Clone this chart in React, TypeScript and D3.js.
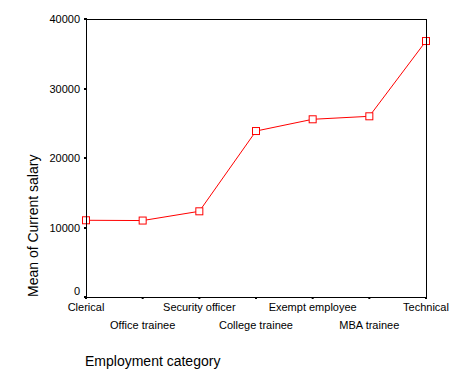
import React from "react";
import * as d3 from "d3";

const categories = [
  "Clerical",
  "Office trainee",
  "Security officer",
  "College trainee",
  "Exempt employee",
  "MBA trainee",
  "Technical",
];
const meanSalary = [11040, 11000, 12330, 23880, 25570, 26000, 36830];
const yTicks = [0, 10000, 20000, 30000, 40000];

const W = 472;
const H = 377;
const left = 86;
const right = 426;
const top = 19;
const bottom = 297;
const font = "'Liberation Sans', Arial, Helvetica, sans-serif";

export default function App() {
  const x = d3.scalePoint<string>().domain(categories).range([left, right]);
  const y = d3.scaleLinear().domain([0, 40000]).range([bottom, top]);
  const line = d3
    .line<number>()
    .x((_, i) => x(categories[i]) as number)
    .y((d) => y(d));

  return (
    <svg
      width={W}
      height={H}
      style={{ position: "absolute", left: 0, top: 0, background: "#fff" }}
      fontFamily={font}
    >
      <rect x={0} y={0} width={W} height={H} fill="#fff" />
      <path d={line(meanSalary) || ""} fill="none" stroke="#ff0000" strokeWidth={1} />
      {meanSalary.map((v, i) => (
        <rect
          key={i}
          x={(x(categories[i]) as number) - 3.5}
          y={y(v) - 3.5}
          width={7}
          height={7}
          fill="#fff"
          stroke="#ff0000"
          strokeWidth={1}
        />
      ))}
      {/* frame */}
      <rect
        x={left + 0.5}
        y={top + 0.5}
        width={right - left}
        height={bottom - top}
        fill="none"
        stroke="#000"
        strokeWidth={1}
      />
      {/* y ticks */}
      {yTicks.map((t) => (
        <g key={t}>
          <rect x={left - 2} y={Math.round(y(t)) - 1} width={3} height={2} fill="#000" />
          <text
            x={80}
            y={Math.min(y(t) + 4, bottom - 2)}
            textAnchor="end"
            fontSize={11}
            fill="#000"
          >
            {t}
          </text>
        </g>
      ))}
      {/* x ticks */}
      {categories.map((c, i) => (
        <g key={c}>
          <rect x={(x(c) as number) - 1} y={bottom} width={2} height={2} fill="#000" />
          <text
            x={x(c) as number}
            y={i % 2 === 0 ? 311 : 329}
            textAnchor="middle"
            fontSize={11}
            fill="#000"
          >
            {c}
          </text>
        </g>
      ))}
      <text
        transform={`translate(38,297) rotate(-90)`}
        textAnchor="start"
        fontSize={14}
        fill="#000"
      >
        Mean of Current salary
      </text>
      <text x={85} y={366} fontSize={14} fill="#000">
        Employment category
      </text>
    </svg>
  );
}
